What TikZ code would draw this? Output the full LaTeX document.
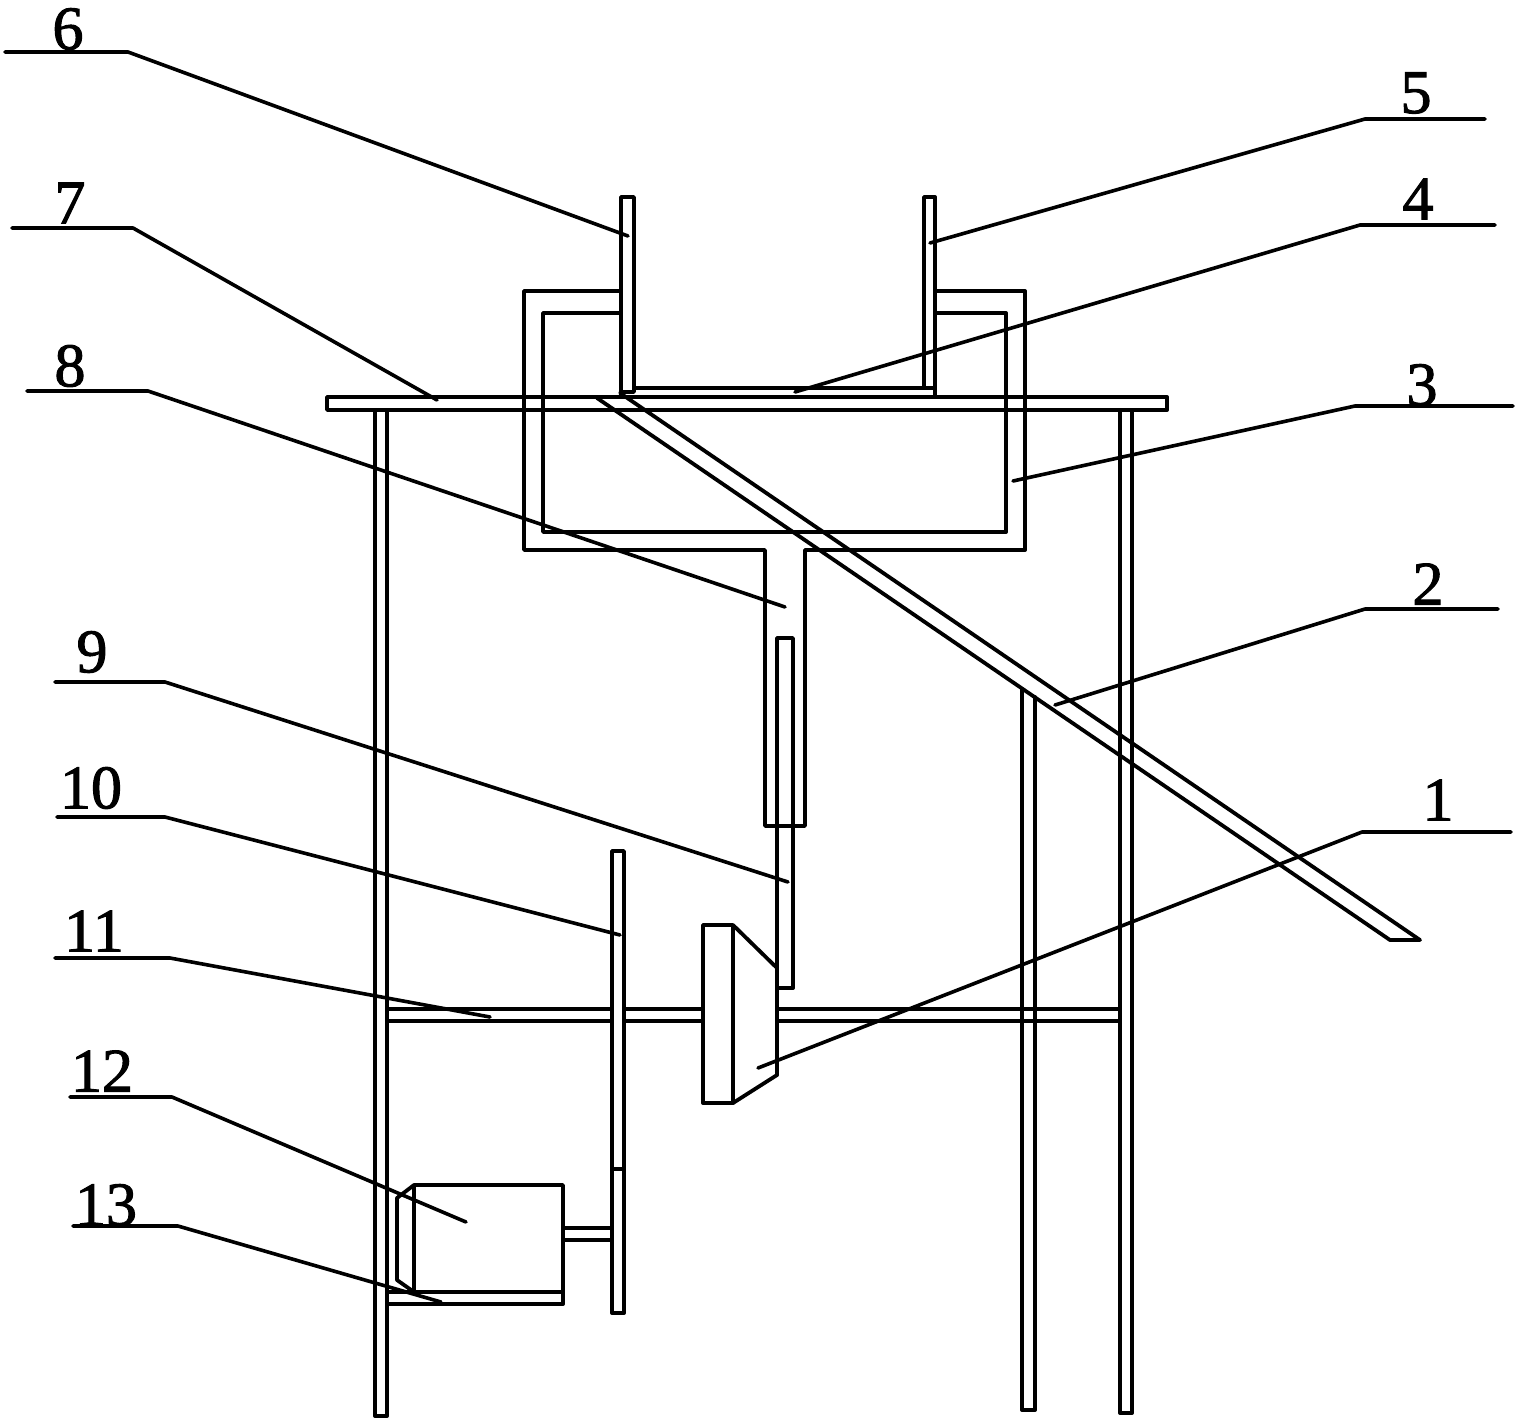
\documentclass[tikz,border=0pt]{standalone}
\usepackage{fontspec}
\setmainfont{Liberation Serif}[RawFeature={embolden=1.6}]

\begin{document}
\begin{tikzpicture}
[x=0.5pt,y=-0.5pt,
  partLine/.style={line width=1.9pt,line join=round,line cap=round},%
  leaderLine/.style={line width=1.8pt,line join=round,line cap=round},%
  labelDecorate/.style={inner sep=0pt,font=\fontsize{31}{32}\selectfont}]
\useasboundingbox (0,0) rectangle (1530,1424);
%% plate and legs
\draw[partLine] (327,397) rectangle (1167,410);
\draw[partLine] (375,410) rectangle (387,1416);
\draw[partLine] (1120,410) rectangle (1132,1413);
\draw[partLine] (1022,689) -- (1022,1410) -- (1035,1410) -- (1035,697);
%% hopper with its neck
\draw[partLine] (621,291) -- (524,291) -- (524,550) -- (765,550) -- (765,826)
  -- (805,826) -- (805,550) -- (1025,550) -- (1025,291) -- (935,291);
\draw[partLine] (621,313) -- (543,313) -- (543,532) -- (1006,532) -- (1006,313) -- (935,313);
%% prongs
\draw[partLine] (621,397) -- (621,197) -- (634,197) -- (634,392) -- (621,392);
\draw[partLine] (924,388) -- (924,197) -- (935,197) -- (935,397);
\draw[partLine] (634,388) -- (935,388);
%% chute
\draw[partLine] (620,393) -- (1420,940) -- (1390,940) -- (597,398);
%% rod and cam
\draw[partLine] (777,1075) -- (777,638) -- (793,638) -- (793,988) -- (777,988);
\draw[partLine] (703,925) rectangle (733,1103);
\draw[partLine] (733,925) -- (777,968);
\draw[partLine] (733,1103) -- (777,1075);
%% shaft
\foreach \ya in {1009,1021}
{
  \draw[partLine] (387,\ya) -- (612,\ya);
  \draw[partLine] (624,\ya) -- (703,\ya);
  \draw[partLine] (777,\ya) -- (1120,\ya);
}
%% wheel
\draw[partLine] (612,851) rectangle (624,1313);
\draw[partLine] (612,1169) -- (624,1169);
%% motor
\draw[partLine] (414,1185) rectangle (563,1292);
\draw[partLine] (414,1292) -- (387,1292) -- (387,1304) -- (563,1304) -- (563,1292);
\draw[partLine] (414,1185) -- (397,1198) -- (397,1280) -- (414,1292);
\draw[partLine] (563,1228) -- (612,1228);
\draw[partLine] (563,1240) -- (612,1240);
%% labels and leaders
\foreach \partname/\lx/\ly/\sx/\sy/\kx/\ex/\ey in {
  6/68/29/5/52/128/628/236,
  5/1416/93/1485/119/1365/930/243,
  4/1418/199/1495/225/1360/795/392,
  7/70/203/12/228/133/437/400,
  8/70/366/27/391/148/785/607,
  3/1422/385/1513/406/1355/1013/481,
  2/1428/584/1498/609/1365/1055/705,
  9/92/652/55/682/165/788/882,
  1/1438/800/1511/832/1362/758/1068,
  10/91/788/57/817/165/620/935,
  11/94/931/55/958/170/490/1017,
  12/102/1071/70/1097/172/466/1222,
  13/106/1205/73/1226/178/441/1302}
{
  \node (label\partname) at (\lx,\ly) [labelDecorate] {\partname};
  \coordinate (shelf\partname) at (\sx,\sy);
  \coordinate (knee\partname) at (\kx,\sy);
  \coordinate (tip\partname) at (\ex,\ey);
  \draw[leaderLine] (shelf\partname) -- (knee\partname) -- (tip\partname);
}
\end{tikzpicture}
\end{document}
